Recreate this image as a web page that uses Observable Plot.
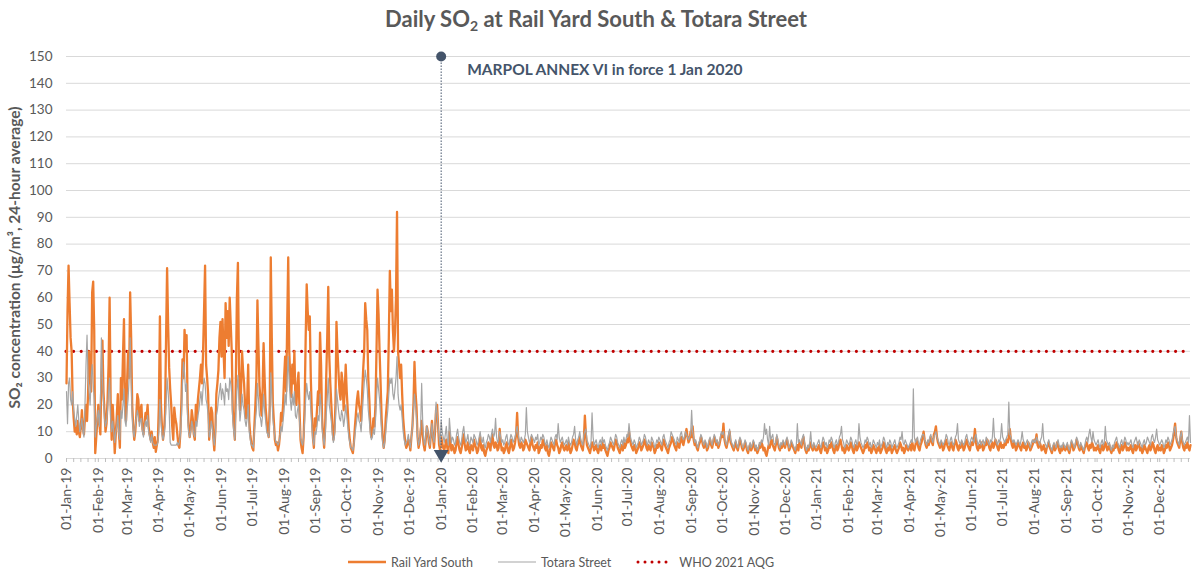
<!DOCTYPE html>
<html>
<head>
<meta charset="utf-8">
<script src="https://cdn.jsdelivr.net/npm/d3@7"></script>
<script src="https://cdn.jsdelivr.net/npm/@observablehq/plot@0.6"></script>
<style>
  html, body { margin: 0; padding: 0; background: #fff; }
  body { font-family: Lato, "Open Sans", "DejaVu Sans", sans-serif; color: #595959; }
  #wrap { position: relative; width: 1192px; height: 574px; overflow: hidden; }
  #title { position: absolute; top: 5px; left: 0; width: 1192px; text-align: center;
           font-size: 22px; font-weight: bold; color: #595959; line-height: 28px; }
  #title sub { font-size: 14px; vertical-align: -4px; line-height: 0; }
  #chart { position: absolute; top: 40px; left: 0; }
  #legend { position: absolute; top: 552px; left: 348px; height: 20px;
            display: flex; justify-content: flex-start; align-items: center; gap: 25px;
            font-size: 12.5px; color: #595959; white-space: nowrap; }
  #legend .item { display: flex; align-items: center; gap: 5px; }
  #legend svg { display: block; }
</style>
</head>
<body>
<div id="wrap">
  <div id="title">Daily SO<sub>2</sub> at Rail Yard South &amp; Totara Street</div>
  <div id="chart"></div>
  <div id="legend"></div>
</div>
<script>
// ---------------- DATA (daily 24-hour average SO2, µg/m³) ----------------
const seriesNames = ["Rail Yard South", "Totara Street", "WHO 2021 AQG"];
const whoGuideline = 40;
const marpolDate = "2020-01-01";
const marpolLabel = "MARPOL ANNEX VI in force 1 Jan 2020";
const yLabel = "SO\u2082 concentration (\u00b5g/m\u00b3, 24-hour average)";
const yTicks = [0,10,20,30,40,50,60,70,80,90,100,110,120,130,140,150];

const railYard2019 = [
  28,55,72,58,45,40,22,15,10,12,9,14,10,8,12,18,11,9,15,20,14,24,40,31,25,62,66,48,2,8,14,
  20,13,9,30,44,25,18,10,13,22,35,60,22,7,20,12,2,9,16,24,10,4,30,22,38,52,20,14,
  28,40,30,62,45,20,12,7,10,16,24,22,14,18,20,11,9,13,17,15,20,12,9,7,10,6,4,8,2.5,5,7,
  20,53,20,12,7,10,17,45,71,50,34,26,20,12,7,19,15,13,9,5,4,10,22,37,30,48,40,46,20,12,
  8,11,18,15,9,7,20,14,22,26,30,35,28,39,55,72,35,30,24,7,12,19,17,8,3,10,24,28,33,45,51,
  38,52,40,30,58,45,55,42,60,50,40,18,12,7,30,60,73,35,18,25,40,33,28,20,15,22,35,14,9,6,
  4,3,12,20,30,59,42,27,22,16,25,43,30,19,14,10,8,20,75,45,21,14,7,5,6,3,5,9,17,14,20,
  30,38,25,50,75,40,30,23,35,28,40,22,20,28,32,18,7,4,2,8,20,45,65,55,48,53,30,17,8,4,15,
  12,18,25,20,47,35,15,9,4,12,30,45,64,38,28,20,12,7,10,20,51,40,32,25,22,32,28,18,25,35,
  25,18,11,7,4,3,2,6,12,17,22,25,20,18,14,24,33,40,58,52,48,30,22,12,8,10,15,12,20,40,63,
  54,40,28,15,8,4,7,15,20,25,45,70,55,63,48,40,47,60,92,40,35,30,35,24,15,10,6,4,5,7,
  6,3,8,12,20,36,25,19,8,4,6,10,14,9,5,3,7,12,10,6,4,9,14,8,4,10,18,20,12,5,3
];
const railYard2020 = [
  8,6,4,3,5,7,4,2,10,6,3,5,4,2,3,6,8,5,3,2,4,7,9,5,3,4,6,3,2,5,4,
  3,7,5,4,2,3,6,8,4,3,5,2,1,3,4,6,5,3,7,9,5,4,6,5,3,4,11,6,3,
  4,2,3,5,6,3,2,4,7,5,3,4,6,9,17,8,5,4,6,5,3,4,7,6,5,4,3,6,8,5,4,
  3,5,4,6,2,3,5,4,7,6,4,3,5,2,1,3,6,5,4,3,6,7,5,4,2,3,5,6,4,3,
  4,5,3,6,4,2,3,5,7,6,4,3,5,6,8,5,4,3,7,16,9,5,4,3,2,4,6,5,3,4,5,
  3,2,4,5,3,6,4,5,3,2,1,3,4,6,5,4,3,5,7,6,4,3,2,4,5,3,6,4,5,7,
  6,10,7,5,4,3,5,4,2,3,4,6,5,3,4,5,7,6,4,3,5,4,3,6,5,4,2,3,5,4,6,
  5,4,3,6,7,5,4,3,2,4,5,6,8,7,5,4,3,6,5,4,7,8,6,5,7,9,11,8,6,7,10,
  8,12,7,5,6,4,3,5,6,8,7,5,4,6,5,3,4,6,7,5,4,6,8,7,5,6,4,5,7,9,
  8,13,7,5,4,6,8,10,6,5,4,3,5,6,4,3,5,7,6,4,3,4,6,5,3,2,4,5,3,4,6,
  5,3,4,2,3,5,4,6,5,3,4,2,1,3,5,4,6,7,5,4,3,5,8,6,4,3,5,4,6,5,
  4,6,7,5,3,4,6,5,4,3,2,4,5,3,6,5,4,7,8,5,3,2,4,3,5,6,4,3,5,4,3
];
const railYard2021 = [
  3,4,5,3,2,4,6,5,3,4,2,3,5,4,6,5,3,2,4,5,3,4,6,7,5,3,4,2,3,5,4,
  3,4,6,5,3,2,4,5,3,4,6,5,4,3,2,3,5,4,6,5,3,4,2,3,5,4,3,2,
  4,3,5,2,3,4,6,5,3,2,4,3,5,4,2,3,4,5,3,2,3,4,6,5,3,4,2,3,5,4,3,
  4,5,3,6,4,3,5,7,6,4,3,5,6,8,10,7,5,4,6,5,7,8,6,5,9,10,12,8,6,5,
  4,6,5,3,4,6,7,5,4,3,5,6,4,3,5,7,6,4,3,5,4,6,5,3,4,6,7,5,4,3,5,
  6,5,7,11,6,4,3,5,4,6,5,3,4,6,5,7,6,4,3,5,6,4,5,7,6,4,3,5,6,4,
  5,4,6,5,7,6,8,11,7,5,4,6,5,3,4,6,5,4,3,5,6,4,5,3,4,6,5,3,4,5,6,
  7,6,9,5,4,6,5,3,4,5,3,2,4,5,6,4,3,2,4,5,3,4,6,5,3,2,4,3,5,4,3,
  4,5,3,2,4,6,5,3,4,5,7,6,4,3,5,4,3,2,4,5,6,4,3,5,4,6,5,3,4,3,
  4,5,3,2,4,5,3,4,6,5,3,4,5,3,2,4,3,5,4,6,5,3,2,4,5,3,4,6,5,3,4,
  3,4,5,3,2,4,5,3,4,6,5,3,4,2,3,5,4,3,2,4,5,3,4,6,5,3,2,4,5,3,
  4,3,5,4,2,3,5,4,6,5,3,4,5,7,10,13,8,6,5,4,7,10,6,4,3,5,4,6,4,3,5
];
const totara2019 = [
  25,13,28,30,22,20,25,18,15,12,16,20,14,10,12,15,10,8,20,35,46,30,25,20,30,35,28,22,8,12,15,
  18,12,20,45,30,22,15,12,14,18,25,30,15,10,14,10,6,10,12,16,9,7,18,15,20,26,14,12,
  18,22,30,45,28,16,10,8,12,15,18,16,12,14,15,10,8,12,14,12,16,10,8,6,9,6,5,5,5,5,6,
  10,22,14,9,7,9,12,20,30,25,18,6,5,5,5,5,5,5,6,5,6,9,16,28,36,32,25,28,15,10,
  8,10,14,12,9,8,14,12,16,18,22,25,20,26,30,28,22,20,16,8,10,14,12,8,5,9,16,18,22,25,28,
  22,26,24,20,28,25,26,22,30,28,24,14,10,7,18,25,31,22,14,18,24,20,18,14,12,15,20,10,7,5,
  5,4,10,14,18,28,22,16,15,12,16,24,18,14,10,9,8,14,32,24,15,11,8,6,6,5,6,8,12,10,14,
  18,24,20,30,38,28,22,18,24,20,25,16,15,18,20,14,8,6,5,8,14,22,28,24,22,25,18,12,7,5,10,
  9,12,16,14,24,20,11,8,5,9,16,22,30,20,17,14,9,6,8,14,26,22,18,15,14,18,16,12,15,20,
  16,12,8,6,4,4,3,5,9,12,15,17,14,13,10,16,22,28,33,30,26,18,14,9,7,8,11,9,14,22,30,
  26,22,16,10,6,4,6,10,14,18,24,30,28,30,24,22,26,30,38,24,20,18,20,15,10,7,5,6,7,9,
  6,4,8,12,18,24,20,15,8,5,7,12,28,14,7,5,8,12,10,7,5,9,13,8,6,12,21,17,12,8,5
];
const totara2020 = [
  14,10,8,6,9,12,7,5,15,10,6,8,7,5,6,9,11,8,6,5,7,10,12,8,6,7,9,6,5,8,7,
  6,9,8,7,5,6,8,10,7,6,8,5,4,6,7,9,8,6,9,11,8,9,15,8,6,7,10,8,6,
  7,5,6,8,9,6,5,7,9,8,6,7,8,10,12,9,7,6,8,7,6,7,9,19,10,8,6,7,9,8,7,
  6,8,7,9,5,6,8,7,9,8,6,5,7,5,4,6,8,7,6,5,8,9,7,13,8,6,7,8,6,5,
  6,7,5,8,6,5,6,8,9,12,7,5,7,8,10,7,6,5,9,10,11,7,6,5,4,6,17,8,5,6,7,
  5,4,6,7,5,8,6,7,5,4,3,5,6,8,7,6,5,7,9,8,6,5,4,6,7,5,8,6,7,9,
  8,13,9,7,6,5,7,6,4,5,6,8,7,5,6,7,9,8,6,5,7,6,5,8,7,6,4,5,7,6,8,
  7,6,5,8,9,7,6,5,4,6,7,10,9,8,7,6,5,8,7,6,9,10,8,7,8,10,9,8,7,8,9,
  18,10,8,6,7,5,4,6,7,9,8,6,5,7,6,4,5,7,8,6,5,7,9,8,6,7,5,6,8,10,
  9,10,8,6,5,7,9,11,7,6,5,4,6,7,5,4,6,8,7,5,4,5,7,6,4,3,5,6,4,5,7,
  6,4,5,3,4,6,5,7,6,8,13,9,11,7,5,12,7,8,9,6,5,6,9,7,5,4,6,5,7,6,
  5,7,8,6,4,5,7,6,5,4,3,5,13,6,7,6,5,8,9,6,4,3,5,4,6,10,5,4,6,5,4
];
const totara2021 = [
  5,6,7,5,4,6,8,7,5,6,4,5,7,6,8,7,5,4,6,7,5,6,8,9,12,7,6,4,5,7,6,
  5,6,8,7,5,4,6,7,5,6,13,8,6,5,4,5,7,6,8,7,5,6,4,5,7,6,5,4,
  6,5,7,4,5,6,8,7,5,4,6,5,7,6,4,5,6,7,5,4,5,6,8,7,10,6,5,7,6,5,4,
  5,6,7,6,26,8,6,7,8,6,5,7,8,9,9,7,6,5,7,6,8,9,7,6,8,9,10,8,7,6,
  5,7,6,5,6,7,9,8,6,5,7,8,6,5,6,8,9,13,7,6,5,7,6,5,6,8,9,7,6,5,7,
  8,7,6,8,9,7,5,6,7,5,6,7,5,6,8,7,6,5,7,6,8,15,8,7,6,5,7,6,8,13,
  8,7,6,7,8,9,21,9,8,7,6,7,6,5,6,7,6,5,7,10,7,6,5,6,7,6,5,4,6,7,6,
  7,6,8,7,6,5,7,8,13,7,6,5,4,6,7,5,4,3,5,6,5,4,6,7,5,4,5,4,6,5,4,
  5,6,4,3,5,7,6,5,4,6,8,7,5,4,6,5,4,3,5,7,8,6,9,11,8,6,10,7,6,5,
  6,7,5,4,6,7,5,6,12,7,6,5,6,4,3,5,4,6,7,8,6,5,4,6,7,5,6,8,7,5,6,
  5,6,7,5,4,6,7,8,6,5,7,6,5,4,6,7,5,6,8,7,6,5,8,9,7,6,8,11,7,6,
  5,6,7,6,4,5,7,6,8,7,5,6,7,9,11,12,8,7,6,5,8,10,7,6,5,6,7,8,6,16,6
];

// ---------------- BUILD TABLES ----------------
const colors = { rail: "#ED7D31", totara: "#A5A5A5", who: "#C00000", note: "#44546A", text: "#595959" };
function toRows(year, values) {
  return values.map((v, i) => ({ date: new Date(Date.UTC(year, 0, 1 + i)), value: v }));
}
const railRows = [...toRows(2019, railYard2019), ...toRows(2020, railYard2020), ...toRows(2021, railYard2021)];
const totaraRows = [...toRows(2019, totara2019), ...toRows(2020, totara2020), ...toRows(2021, totara2021)];

const xStart = new Date(Date.UTC(2019, 0, 1));
const xEnd = new Date(Date.UTC(2021, 11, 31));
const monthTicks = d3.utcMonth.range(xStart, new Date(Date.UTC(2022, 0, 1)));
const weekTicks = d3.utcDay.every(7).range(xStart, xEnd);
const noteDate = new Date(marpolDate + "T00:00:00Z");

const chart = Plot.plot({
  width: 1192,
  height: 505,
  marginTop: 16,
  marginBottom: 87,
  marginLeft: 66,
  marginRight: 2,
  style: { fontFamily: "Lato, 'Open Sans', sans-serif", color: colors.text, background: "#fff" },
  x: { type: "utc", domain: [xStart, xEnd] },
  y: { domain: [0, 150] },
  marks: [
    Plot.gridY(yTicks, { stroke: "#D9D9D9", strokeOpacity: 1, strokeWidth: 1 }),
    Plot.axisY(yTicks, { tickSize: 0, tickPadding: 14, fontSize: 13.5, label: null }),
    Plot.ruleY([0], { stroke: "#D9D9D9", strokeWidth: 1 }),
    Plot.axisX(weekTicks, { tickSize: 4, stroke: "#BFBFBF", text: null, label: null }),
    Plot.axisX(monthTicks, { tickSize: 0, tickPadding: 9, tickRotate: -90, fontSize: 14,
      tickFormat: d3.utcFormat("%d-%b-%y"), label: null }),
    Plot.text([yLabel], { frameAnchor: "left", dx: -51, rotate: -90, text: d => d,
      textAnchor: "middle", fontWeight: "bold", fontSize: 15.5, fill: colors.text }),
    Plot.ruleY([whoGuideline], { stroke: colors.who, strokeWidth: 3.2, strokeDasharray: "0,7.6",
      strokeLinecap: "round" }),
    Plot.line(railRows, { x: "date", y: "value", stroke: colors.rail, strokeWidth: 2.3,
      strokeLinejoin: "round" }),
    Plot.line(totaraRows, { x: "date", y: "value", stroke: colors.totara, strokeWidth: 1.2,
      strokeLinejoin: "round" }),
    Plot.ruleX([noteDate], { y1: 1.5, y2: 150, stroke: colors.note, strokeWidth: 1,
      strokeDasharray: "1.5,1.5" }),
    Plot.dot([noteDate], { x: d => d, y: 150, r: 5, fill: colors.note, stroke: "none" }),
    Plot.dot([noteDate], { x: d => d, y: 1.6, symbol: "triangle", rotate: 180, r: 5.5,
      fill: colors.note, stroke: "none" }),
    Plot.text([marpolLabel], { x: () => noteDate, y: 145, dx: 26, text: d => d, textAnchor: "start",
      fontWeight: "bold", fontSize: 15.5, fill: colors.note })
  ]
});
document.getElementById("chart").appendChild(chart);

// ---------------- LEGEND ----------------
const legend = document.getElementById("legend");
const swatches = [
  `<svg width="38" height="10"><line x1="0" y1="5" x2="38" y2="5" stroke="${colors.rail}" stroke-width="2.5"/></svg>`,
  `<svg width="38" height="10"><line x1="0" y1="5" x2="38" y2="5" stroke="${colors.totara}" stroke-width="1.2"/></svg>`,
  `<svg width="38" height="10"><line x1="2" y1="5" x2="37" y2="5" stroke="${colors.who}" stroke-width="3" stroke-dasharray="0,7" stroke-linecap="round"/></svg>`
];
seriesNames.forEach((name, i) => {
  const item = document.createElement("div");
  item.className = "item";
  item.innerHTML = swatches[i] + `<span>${name}</span>`;
  legend.appendChild(item);
});
</script>
</body>
</html>
